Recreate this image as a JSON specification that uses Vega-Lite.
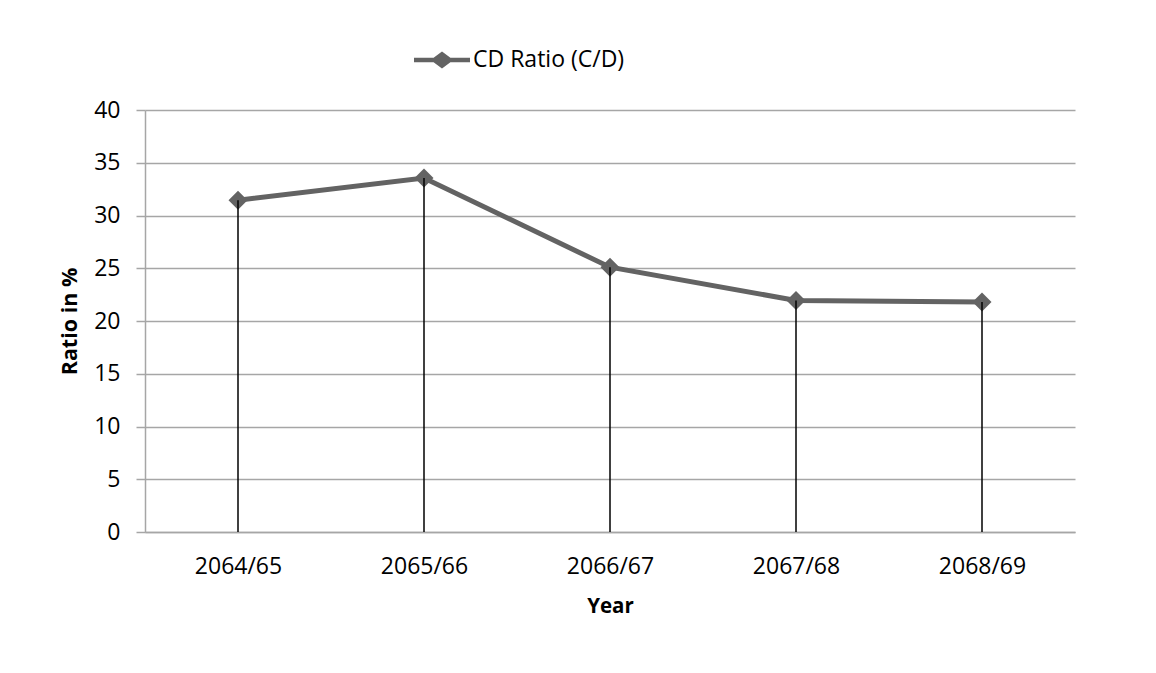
{
  "$schema": "https://vega.github.io/schema/vega-lite/v6.json",
  "width": 930,
  "height": 422,
  "autosize": {"type": "none"},
  "padding": {"left": 145, "top": 110, "right": 81, "bottom": 141},
  "background": "white",
  "config": {
    "view": {"stroke": null},
    "font": "Open Sans",
    "axis": {"labelFont": "Open Sans", "titleFont": "Open Sans", "labelColor": "black", "titleColor": "black"}
  },
  "data": {
    "values": [
      {"year": "2064/65", "ratio": 31.45, "series": "CD Ratio (C/D)"},
      {"year": "2065/66", "ratio": 33.55, "series": "CD Ratio (C/D)"},
      {"year": "2066/67", "ratio": 25.1, "series": "CD Ratio (C/D)"},
      {"year": "2067/68", "ratio": 21.95, "series": "CD Ratio (C/D)"},
      {"year": "2068/69", "ratio": 21.8, "series": "CD Ratio (C/D)"}
    ]
  },
  "encoding": {
    "x": {
      "field": "year",
      "type": "ordinal",
      "scale": {"type": "point", "padding": 0.5},
      "axis": {
        "title": "Year",
        "titleFontSize": 20.5,
        "titleFontWeight": "bold",
        "titlePadding": 18,
        "labelFontSize": 23,
        "labelAngle": 0,
        "labelPadding": 23,
        "ticks": false,
        "domainColor": "#a6a6a6",
        "domainWidth": 1.5,
        "grid": false
      }
    },
    "y": {
      "field": "ratio",
      "type": "quantitative",
      "scale": {"domain": [0, 40], "nice": false},
      "axis": {
        "title": "Ratio in %",
        "titleFontSize": 21.5,
        "titleFontWeight": "bold",
        "titlePadding": 12,
        "values": [0, 5, 10, 15, 20, 25, 30, 35, 40],
        "labelFontSize": 23,
        "labelPadding": 16,
        "tickSize": 9,
        "tickColor": "#a6a6a6",
        "tickWidth": 1.5,
        "domainColor": "#a6a6a6",
        "domainWidth": 1.5,
        "gridColor": "#a6a6a6",
        "gridWidth": 1.5,
        "gridOpacity": 1
      }
    }
  },
  "layer": [
    {
      "mark": {
        "type": "line",
        "strokeWidth": 5,
        "point": {"shape": "diamond", "size": 361, "filled": true, "color": "#636363", "opacity": 1}
      },
      "encoding": {
        "color": {
          "field": "series",
          "type": "nominal",
          "scale": {"range": ["#636363"]},
          "legend": {
            "title": null,
            "orient": "none",
            "legendX": 269,
            "legendY": -78,
            "padding": 0,
            "symbolType": "M-1,-0.08H-0.3L0,-0.3L0.3,-0.08H1V0.08H0.3L0,0.3L-0.3,0.08H-1Z",
            "symbolSize": 3136,
            "symbolFillColor": "#636363",
            "symbolStrokeWidth": 0,
            "labelFontSize": 23,
            "labelColor": "black",
            "labelOffset": 3,
            "encode": {
              "symbols": {"update": {"fill": {"value": "#636363"}, "strokeWidth": {"value": 0}, "opacity": {"value": 1}}}
            }
          }
        }
      }
    },
    {
      "mark": {"type": "rule", "color": "black", "strokeWidth": 1.5},
      "encoding": {
        "y2": {"datum": 0}
      }
    }
  ]
}
